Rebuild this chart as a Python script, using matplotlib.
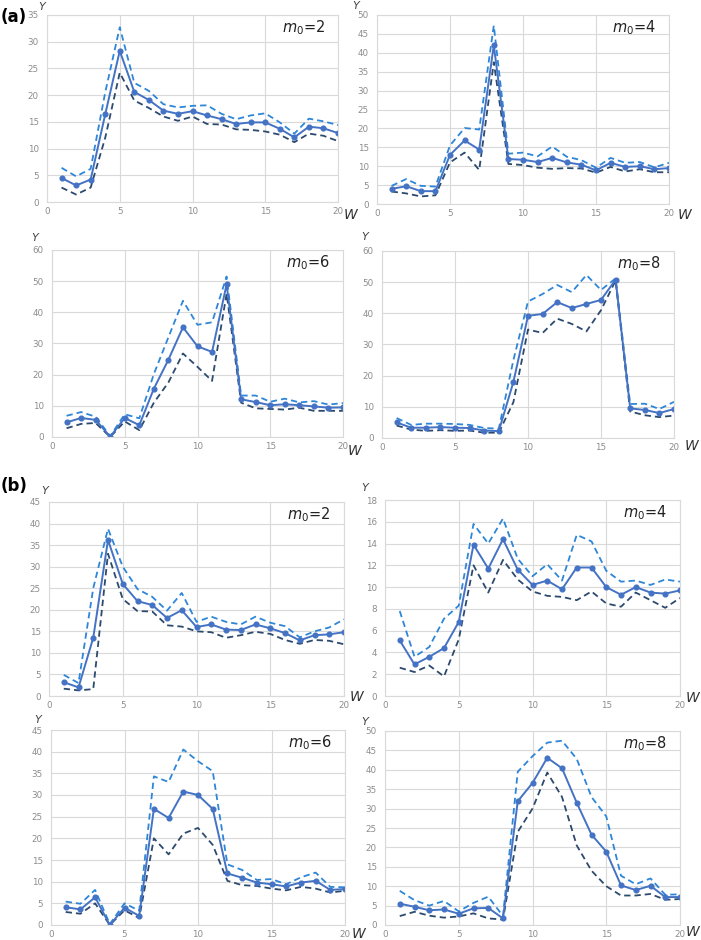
#! /bin/env python3
''' Mean and bounds of Y over W, for m0 = 2, 4, 6, 8, two sets (a) and (b) '''

import matplotlib
matplotlib.use('Agg')
import matplotlib.pyplot as plt

W = list(range(1, 21))

# ---- set (a) ----
a2_mean = [4.5, 3.1, 4.2, 16.4, 28.3, 20.6, 19.1, 17.1, 16.5, 17.0,
           16.2, 15.5, 14.6, 14.9, 14.9, 13.7, 12.1, 14.1, 13.8, 12.9]
a2_upper = [6.4, 4.8, 6.2, 20.5, 32.7, 22.3, 20.8, 18.3, 17.7, 18.0,
            18.1, 16.5, 15.5, 16.2, 16.6, 14.9, 12.8, 15.6, 15.1, 14.4]
a2_lower = [2.7, 1.4, 2.7, 12.0, 24.2, 19.0, 17.6, 16.0, 15.2, 16.0,
            14.6, 14.5, 13.6, 13.5, 13.2, 12.6, 11.2, 12.8, 12.4, 11.4]

a4_mean = [4.0, 4.7, 3.4, 3.4, 13.0, 16.8, 14.4, 42.0, 11.9, 11.7,
           11.1, 12.2, 11.0, 10.4, 8.9, 10.9, 9.8, 10.0, 9.2, 9.5]
a4_upper = [4.8, 6.6, 4.8, 4.6, 15.5, 20.1, 19.7, 47.2, 13.3, 13.6,
            12.6, 15.2, 12.5, 11.6, 9.6, 12.2, 10.9, 11.1, 9.7, 10.9]
a4_lower = [3.3, 2.8, 2.0, 2.3, 11.0, 13.6, 9.0, 37.5, 10.6, 10.3,
            9.6, 9.3, 9.5, 9.4, 8.3, 9.8, 8.6, 9.2, 8.4, 8.4]

a6_mean = [4.7, 6.1, 5.5, 0.1, 6.1, 3.8, 15.5, 24.8, 35.2, 29.1,
           27.3, 49.0, 12.1, 11.2, 10.2, 10.5, 10.2, 9.8, 9.4, 9.5]
a6_upper = [6.8, 8.0, 6.5, 0.3, 7.3, 6.0, 20.2, 32.0, 43.7, 36.0,
            36.8, 51.5, 13.3, 13.3, 11.3, 12.3, 11.1, 11.5, 10.4, 10.9]
a6_lower = [2.8, 4.2, 4.5, 0.0, 5.0, 2.2, 11.0, 17.5, 26.8, 22.5,
            18.0, 46.0, 11.0, 9.2, 9.0, 8.8, 9.4, 8.4, 8.4, 8.4]

a8_mean = [5.0, 3.3, 3.3, 3.5, 3.3, 3.2, 2.4, 2.2, 18.0, 39.2,
           39.8, 43.6, 41.7, 43.0, 44.3, 50.8, 9.5, 9.0, 8.0, 9.3]
a8_upper = [6.4, 4.2, 4.6, 4.6, 4.5, 4.2, 3.2, 3.0, 25.0, 43.8,
            46.2, 49.1, 46.8, 52.3, 47.5, 51.2, 10.9, 11.0, 9.3, 11.6]
a8_lower = [4.0, 2.7, 2.3, 2.5, 2.3, 2.4, 1.7, 1.7, 11.5, 34.8,
            33.7, 38.3, 36.6, 34.2, 41.0, 50.5, 8.5, 7.3, 6.7, 7.2]

# ---- set (b) ----
b2_mean = [3.2, 2.0, 13.5, 36.2, 26.0, 22.0, 21.1, 18.1, 19.9, 16.0,
           16.6, 15.4, 15.3, 16.6, 15.7, 14.6, 12.9, 14.1, 14.3, 14.8]
b2_upper = [4.9, 3.0, 25.0, 38.8, 30.0, 24.8, 23.0, 19.8, 23.9, 17.2,
            18.4, 17.2, 16.6, 18.4, 17.0, 16.2, 13.6, 15.0, 15.9, 17.8]
b2_lower = [1.7, 1.3, 1.6, 33.0, 22.5, 19.7, 19.6, 16.4, 16.1, 15.0,
            14.8, 13.5, 14.1, 14.9, 14.4, 13.0, 12.1, 13.0, 12.8, 12.0]

b4_mean = [5.1, 2.9, 3.6, 4.4, 6.8, 13.9, 11.7, 14.4, 11.6, 10.2,
           10.6, 9.8, 11.8, 11.8, 10.0, 9.3, 10.0, 9.5, 9.4, 9.7]
b4_upper = [7.8, 3.6, 4.5, 7.1, 8.3, 15.8, 14.0, 16.3, 12.6, 11.0,
            12.1, 10.6, 14.8, 14.2, 11.5, 10.5, 10.6, 10.2, 10.7, 10.5]
b4_lower = [2.6, 2.2, 2.8, 1.8, 5.2, 12.0, 9.5, 12.5, 10.7, 9.6,
            9.2, 9.1, 8.8, 9.6, 8.5, 8.2, 9.5, 8.8, 8.1, 9.0]

b6_mean = [4.1, 3.6, 6.4, 0.0, 4.0, 2.1, 26.8, 24.7, 30.8, 30.0,
           26.8, 11.9, 10.9, 9.8, 9.4, 8.9, 9.8, 10.2, 8.1, 8.3]
b6_upper = [5.4, 4.9, 8.1, 0.2, 5.0, 3.3, 34.3, 33.0, 40.5, 37.8,
            35.5, 14.0, 12.7, 10.4, 10.6, 9.4, 11.0, 12.1, 8.8, 8.7]
b6_lower = [3.0, 2.6, 5.0, 0.0, 3.4, 1.6, 20.0, 16.3, 21.1, 22.4,
            18.5, 10.2, 9.2, 9.0, 8.4, 8.0, 8.8, 8.4, 7.5, 7.9]

b8_mean = [5.5, 4.7, 3.8, 4.0, 2.9, 4.3, 4.4, 1.7, 31.9, 36.6,
           43.1, 40.4, 31.5, 23.3, 18.9, 10.2, 9.0, 10.1, 7.2, 7.2]
b8_upper = [8.8, 6.4, 5.0, 6.2, 3.5, 5.7, 7.3, 2.3, 39.5, 43.5,
            47.0, 47.5, 42.8, 33.0, 28.0, 12.7, 10.5, 12.0, 7.8, 7.9]
b8_lower = [2.3, 3.4, 2.4, 1.9, 2.2, 3.0, 1.7, 1.4, 24.0, 30.0,
            39.3, 33.0, 20.5, 14.0, 10.0, 7.6, 7.6, 8.0, 6.5, 6.7]

m0_labels = ['2', '4', '6', '8']

GRID = '#d9d9d9'
TICK = '#8c8c8c'
MEAN_C = '#4472c4'
UP_C = '#2e86d8'
LOW_C = '#2c4a6e'

FIG_W, FIG_H = 701, 940


def _add_axes(fig, left, top, right, bottom):
    return fig.add_axes([left / FIG_W, 1 - bottom / FIG_H,
                         (right - left) / FIG_W, (bottom - top) / FIG_H])


def _panel(ax, mean, upper, lower, ymax, ystep, m0):
    ax.plot(W, upper, color=UP_C, linestyle='--', linewidth=1.3, dashes=(3.5, 2.2))
    ax.plot(W, lower, color=LOW_C, linestyle='--', linewidth=1.3, dashes=(3.5, 2.2))
    ax.plot(W, mean, color=MEAN_C, linewidth=1.4, marker='o', markersize=3.4)

    ax.set_xlim(0, 20)
    ax.set_ylim(0, ymax)
    ax.set_xticks([0, 5, 10, 15, 20])
    ax.set_yticks(list(range(0, ymax + 1, ystep)))
    ax.grid(True, color=GRID, linewidth=0.8)
    ax.set_axisbelow(True)
    for spine in ax.spines.values():
        spine.set_color(GRID)
        spine.set_linewidth(0.8)
    ax.tick_params(length=0, labelsize=6.3, labelcolor=TICK)
    ax.tick_params(axis='x', pad=3.5)
    ax.tick_params(axis='y', pad=6)

    ax.text(0.955, 0.935, rf'$m_0$=' + m0, transform=ax.transAxes, fontsize=10.5,
            color='#222222', ha='right', va='center')


def _main():
    fig = plt.figure(figsize=(FIG_W / 100, FIG_H / 100), dpi=100)

    # left, top, right, bottom in pixels
    boxes = [
        (47, 15, 338, 202), (377, 15, 669, 204),
        (52, 250, 343, 437), (382, 251, 674, 438),
        (49, 502, 344, 696), (385, 500, 680, 696),
        (51, 730, 345, 925), (385, 731, 680, 925),
    ]
    # axis-name offsets (dx, dy) in pixels: Y from top-left, W from bottom-right
    y_offsets = [(-5, 8), (-21, 9), (-17, 12), (-17, 14),
                 (-4, 11), (-20, 12), (-13, 10), (-20, 9)]
    w_offsets = [(13, 13), (16, 11), (12, 14), (18, 8),
                 (13, 1), (13, 2), (14, 9), (13, 7)]
    series = [
        (a2_mean, a2_upper, a2_lower, 35, 5),
        (a4_mean, a4_upper, a4_lower, 50, 5),
        (a6_mean, a6_upper, a6_lower, 60, 10),
        (a8_mean, a8_upper, a8_lower, 60, 10),
        (b2_mean, b2_upper, b2_lower, 45, 5),
        (b4_mean, b4_upper, b4_lower, 18, 2),
        (b6_mean, b6_upper, b6_lower, 45, 5),
        (b8_mean, b8_upper, b8_lower, 50, 5),
    ]

    for idx, (box, (mean, upper, lower, ymax, ystep)) in enumerate(zip(boxes, series)):
        ax = _add_axes(fig, *box)
        _panel(ax, mean, upper, lower, ymax, ystep, m0_labels[idx % 4])
        left, top, right, bottom = box
        ydx, ydy = y_offsets[idx]
        fig.text((left + ydx) / FIG_W, 1 - (top - ydy) / FIG_H, 'Y', style='italic',
                 fontsize=8, color='#444444', ha='center', va='center')
        wdx, wdy = w_offsets[idx]
        fig.text((right + wdx) / FIG_W, 1 - (bottom + wdy) / FIG_H, 'W', style='italic',
                 fontsize=10, color='#333333', ha='center', va='center')

    fig.text(1 / FIG_W, 1 - 17 / FIG_H, '(a)', fontsize=12, fontweight='bold',
             ha='left', va='center')
    fig.text(1 / FIG_W, 1 - 486 / FIG_H, '(b)', fontsize=12, fontweight='bold',
             ha='left', va='center')

    fig.savefig('out.png', dpi=100)


if __name__ == "__main__":
    _main()
